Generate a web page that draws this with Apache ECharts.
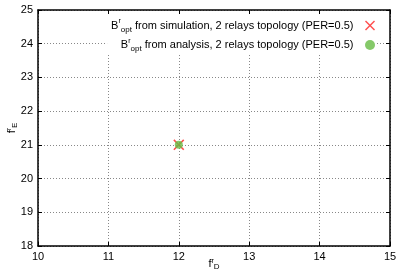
<!DOCTYPE html>
<html>
<head>
<meta charset="utf-8">
<script src="https://cdn.jsdelivr.net/npm/echarts@6/dist/echarts.min.js"></script>
<style>
  html, body { margin: 0; padding: 0; background: #fff; }
  #chart { width: 397px; height: 279px; }
</style>
</head>
<body>
<div id="chart"></div>
<script>
// data
var simPoints = [[12, 21]];
var anaPoints = [[12, 21]];
var xRange = [10, 15];
var yRange = [18, 25];
var simName = "sim";
var anaName = "ana";

var FONT = "Liberation Sans";
var crossPath = "path://M0,1L1,0L5,4L9,0L10,1L6,5L10,9L9,10L5,6L1,10L0,9L4,5Z";

var chart = echarts.init(document.getElementById("chart"));

function axisBase(extra) {
  var a = {
    type: "value",
    axisLine: { show: true, onZero: false, lineStyle: { color: "#000", width: 1.5 } },
    axisTick: { show: true, inside: true, length: 4, lineStyle: { color: "#000" } },
    axisLabel: { color: "#000", fontFamily: FONT, fontSize: 11, margin: 5 },
    splitLine: { show: false }
  };
  for (var k in extra) a[k] = extra[k];
  return a;
}

var nameRich = {
  b: { fontFamily: FONT, fontSize: 11, color: "#000" },
  sup: { fontFamily: FONT, fontSize: 7, color: "#000", padding: [0, 0, 6, 0] },
  sub: { fontFamily: FONT, fontSize: 8, color: "#000", padding: [6, 0, 0, 0] }
};

var option = {
  animation: false,
  grid: { left: 38, right: 7, top: 10, bottom: 33, outerBoundsMode: "none" },
  legend: {
    orient: "vertical",
    right: 20,
    top: 16,
    align: "right",
    itemGap: 4,
    itemWidth: 11,
    itemHeight: 10,
    backgroundColor: "#fff",
    padding: [2, 2, 2, 4],
    data: [
      { name: simName, icon: crossPath },
      { name: anaName, icon: "circle", itemStyle: { color: "#66bb44" } }
    ],
    formatter: function (n) {
      var rest = n === simName ? " from simulation, 2 relays topology (PER=0.5)"
                               : " from analysis, 2 relays topology (PER=0.5)";
      return "{b|B}{sup|r}{sub|opt}{e|" + rest + "}";
    },
    textStyle: {
      fontFamily: FONT,
      color: "#000",
      rich: {
        b: { fontFamily: FONT, fontSize: 11, color: "#000", lineHeight: 16 },
        e: { fontFamily: FONT, fontSize: 11, color: "#000", lineHeight: 16, padding: [0, 6, 0, 0] },
        sup: { fontFamily: FONT, fontSize: 7, color: "#000", padding: [0, 0, 8, 0] },
        sub: { fontFamily: FONT, fontSize: 8, color: "#000", padding: [8, 0, 0, 0] }
      }
    }
  },
  xAxis: [
    axisBase({
      min: xRange[0], max: xRange[1], interval: 1, position: "bottom",
      name: "{b|f}{sup|r}{sub|D}", nameLocation: "middle", nameGap: 11,
      nameMoveOverlap: false,
      nameTextStyle: { rich: nameRich },
      splitLine: { show: true, lineStyle: { color: "#888", type: [1, 2], width: 1 } }
    }),
    axisBase({
      min: xRange[0], max: xRange[1], interval: 1, position: "top",
      axisLabel: { show: false }
    })
  ],
  yAxis: [
    axisBase({
      min: yRange[0], max: yRange[1], interval: 1, position: "left",
      name: "{b|f}{sup|r}{sub|E}", nameLocation: "middle", nameGap: 19, nameRotate: 90,
      nameMoveOverlap: false,
      nameTextStyle: { rich: nameRich },
      splitLine: { show: true, lineStyle: { color: "#888", type: [1, 2], width: 1 } }
    }),
    axisBase({
      min: yRange[0], max: yRange[1], interval: 1, position: "right",
      axisLabel: { show: false }
    })
  ],
  series: [
    {
      name: simName,
      type: "scatter",
      data: simPoints,
      symbol: crossPath,
      symbolSize: 11,
      itemStyle: { color: "#ff2020" },
      z: 3
    },
    {
      name: anaName,
      type: "scatter",
      data: anaPoints,
      symbol: "circle",
      symbolSize: 8,
      itemStyle: { color: "#66bb44" },
      z: 4
    }
  ]
};

chart.setOption(option);
</script>
</body>
</html>
